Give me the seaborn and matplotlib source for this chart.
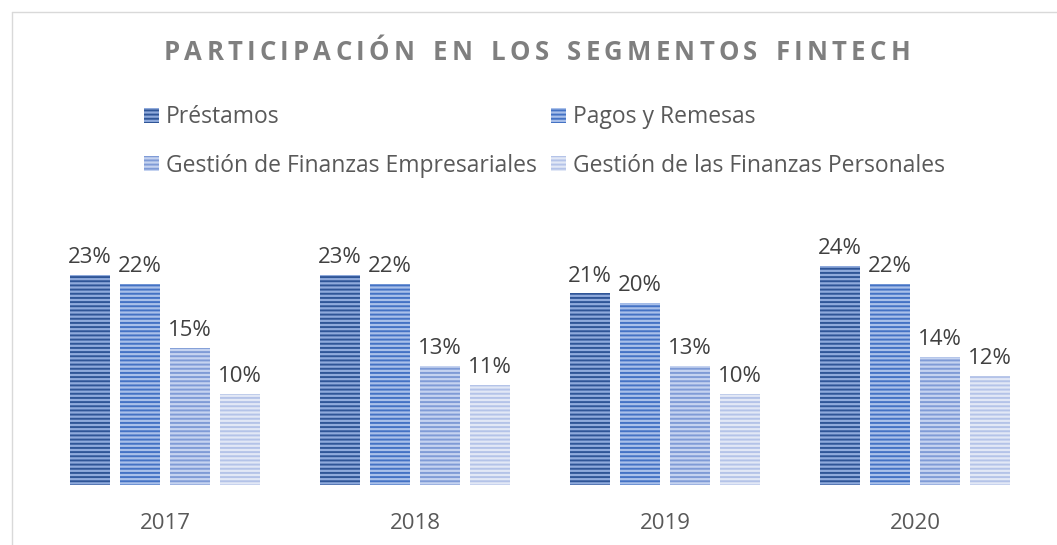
import matplotlib
matplotlib.use("Agg")
import matplotlib.pyplot as plt
import matplotlib.patches as mpatches
from matplotlib.lines import Line2D
import pandas as pd
import seaborn as sns

years = ["2017", "2018", "2019", "2020"]
segments = [
    "Préstamos",
    "Pagos y Remesas",
    "Gestión de Finanzas Empresariales",
    "Gestión de las Finanzas Personales",
]
prestamos = [23, 23, 21, 24]
pagos = [22, 22, 20, 22]
empresariales = [15, 13, 13, 14]
personales = [10, 11, 10, 12]

title = "PARTICIPACIÓN EN LOS SEGMENTOS FINTECH"

# stripe colour / gap colour per series
line_colors = ["#2F5597", "#4472C4", "#7F9BD6", "#B4C3E8"]
fill_colors = ["#8FAADC", "#A9C0EA", "#C5D3F0", "#E2E8F6"]

df = pd.DataFrame({
    "year": years * 4,
    "segment": [s for s in segments for _ in years],
    "value": prestamos + pagos + empresariales + personales,
})

sns.set_style("white")
plt.rcParams["font.family"] = ["Open Sans", "DejaVu Sans"]
plt.rcParams["hatch.linewidth"] = 1.4

W, H = 1057, 545
fig = plt.figure(figsize=(W / 100, H / 100), dpi=100)
ax = fig.add_axes([40 / W, 60 / H, 1000 / W, 228 / H])

sns.barplot(
    data=df, x="year", y="value", hue="segment", hue_order=segments,
    palette=fill_colors, saturation=1, width=0.8, gap=0.2, legend=False, ax=ax,
)

for cont, fc, lc in zip(ax.containers, fill_colors, line_colors):
    for bar in cont:
        bar.set_facecolor(fc)
        bar.set_edgecolor(lc)
        bar.set_hatch("----")
        bar.set_linewidth(0)
    ax.bar_label(cont, labels=[f"{int(b.get_height())}%" for b in cont],
                 padding=5, fontsize=16, color="#404040")

ax.set_xlim(-0.5, 3.5)
ax.set_ylim(0, 25)
ax.set_xlabel("")
ax.set_ylabel("")
ax.set_yticks([])
ax.tick_params(axis="x", length=0, labelsize=16, labelcolor="#595959", pad=20)
sns.despine(ax=ax, left=True, bottom=True)

handles = [mpatches.Patch(facecolor=fc, edgecolor=lc, hatch="----", linewidth=0)
           for fc, lc in zip(fill_colors, line_colors)]
order = [0, 2, 1, 3]
leg = fig.legend([handles[i] for i in order], [segments[i] for i in order],
                 loc="upper left", bbox_to_anchor=(133 / W, 1 - 94 / H),
                 ncol=2, frameon=False, fontsize=16.5, borderpad=0,
                 handlelength=0.65, handleheight=0.65, handletextpad=0.3,
                 labelspacing=1.05, columnspacing=0.6, labelcolor="#595959")

# letter-spaced title
renderer = fig.canvas.get_renderer()
tracking = 4.2
space_w = 10
chars = []
x = 0
for ch in title:
    if ch == " ":
        x += space_w + tracking
        continue
    t = fig.text(0, 1 - 53 / H, ch, fontsize=18.5, fontweight="bold",
                 color="#7F7F7F", va="center", ha="left")
    w = t.get_window_extent(renderer).width
    chars.append((t, x))
    x += w + tracking
total = x - tracking
start = 537 - total / 2
for t, off in chars:
    t.set_x((start + off) / W)

# chart border
fig.add_artist(Line2D([11.5 / W, 11.5 / W], [0, 1 - 11.5 / H], color="#D9D9D9", lw=1))
fig.add_artist(Line2D([11.5 / W, 1], [1 - 11.5 / H, 1 - 11.5 / H], color="#D9D9D9", lw=1))

fig.savefig("out.png", dpi=100)
